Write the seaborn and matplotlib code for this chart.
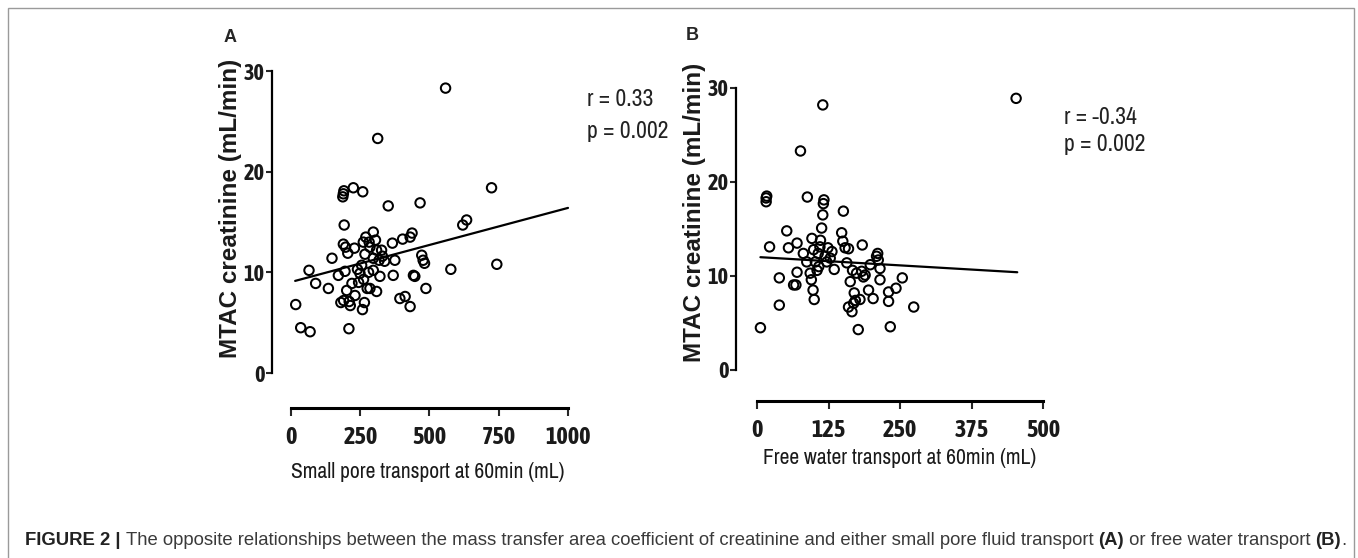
import matplotlib
matplotlib.use("Agg")
import matplotlib.pyplot as plt
import seaborn as sns
from matplotlib import font_manager
from matplotlib.patches import Rectangle

# Panel A: small pore transport (mL) vs MTAC creatinine (mL/min)
small_pore = [17, 35, 69, 65, 89, 135, 148, 171, 180, 187, 189, 191, 225, 259, 192,
              189, 197, 229, 205, 195, 201, 210, 209, 214, 220, 231, 249, 255, 258, 265,
              261, 270, 282, 297, 275, 285, 297, 297, 309, 309, 321, 327, 330, 338, 313,
              351, 366, 375, 369, 393, 412, 430, 403, 430, 437, 442, 447, 466, 472, 477,
              482, 487, 558, 577, 620, 634, 724, 743, 190, 240, 267, 285, 305, 318, 262,
              244, 280]
mtac_a = [6.8, 4.5, 4.1, 10.2, 8.9, 8.4, 11.4, 9.7, 7.0, 17.5, 17.8, 18.1, 18.4, 18.0, 14.7,
          12.8, 12.5, 12.4, 11.9, 10.1, 8.2, 7.1, 4.4, 6.7, 8.9, 7.7, 9.9, 10.7, 6.3, 7.0,
          13.0, 13.5, 13.0, 14.0, 8.4, 8.4, 10.2, 11.4, 8.1, 12.2, 9.6, 12.2, 11.6, 11.1, 23.3,
          16.6, 12.9, 11.2, 9.7, 7.4, 7.6, 6.6, 13.3, 13.5, 13.9, 9.7, 9.6, 16.9, 11.7, 11.2,
          10.9, 8.4, 28.3, 10.3, 14.7, 15.2, 18.4, 10.8, 7.2, 10.3, 11.8, 12.5, 13.2, 11.2, 9.3,
          9.0, 10.0]
fit_a_x = [15, 1000]
fit_a_y = [9.15, 16.4]

# Panel B: free water transport (mL) vs MTAC creatinine (mL/min)
free_water = [6, 16, 17, 16, 22, 39, 39, 52, 55, 64, 68, 70, 70, 76, 81, 87, 88, 93, 95, 96,
              98, 100, 99, 102, 105, 107, 110, 111, 113, 115, 116, 117, 115, 119, 122, 124, 128,
              131, 135, 148, 151, 150, 154, 157, 160, 163, 160, 166, 169, 167, 170, 174, 177,
              180, 183, 184, 186, 189, 195, 198, 203, 209, 211, 212, 215, 215, 230, 230, 233,
              243, 254, 274, 453, 172, 108]
mtac_b = [4.5, 18.3, 18.5, 17.9, 13.1, 9.8, 6.9, 14.8, 13.0, 9.05, 9.05, 10.4, 13.5, 23.3, 12.4,
          11.5, 18.4, 10.3, 9.6, 14.0, 8.5, 7.5, 12.8, 11.5, 10.6, 12.4, 13.1, 13.8, 15.1, 16.5,
          17.7, 18.1, 28.2, 12.1, 11.5, 13.0, 11.9, 12.6, 10.7, 14.6, 16.9, 13.7, 13.0, 11.4,
          12.9, 9.4, 6.7, 6.2, 7.1, 10.6, 8.2, 10.3, 4.3, 7.5, 10.5, 13.3, 9.9, 10.1, 8.5, 11.2,
          7.6, 12.1, 12.4, 11.7, 9.6, 10.8, 8.3, 7.3, 4.6, 8.7, 9.8, 6.7, 28.9, 7.4, 11.0]
fit_b_x = [6, 455]
fit_b_y = [12.0, 10.4]

y_ticks = [0, 10, 20, 30]
a_ticks = [0, 250, 500, 750, 1000]
b_ticks = [0, 125, 250, 375, 500]

sns.set_style("white")
plt.rcParams["font.family"] = ["Liberation Sans", "DejaVu Sans"]

# GraphPad style labels use a narrow font; take one if the machine has it,
# preferring a family that also ships a bold face (for the tick labels)
fonts = font_manager.fontManager.ttflist
narrow_names = sorted({f.name for f in fonts if "Narrow" in f.name or "Condensed" in f.name})
bold_narrow = [n for n in narrow_names
               if any(f.name == n and f.weight in ("bold", 700, "heavy", 800, "black", 900)
                      for f in fonts)]
condensed_dejavu = any(f.name == "DejaVu Sans" and f.stretch == "condensed" for f in fonts)
if narrow_names:
    narrow = dict(family=[narrow_names[0], "Liberation Sans"])
    narrow_b = dict(family=[(bold_narrow or narrow_names)[0], "Liberation Sans"])
    nscale = 1.0
elif condensed_dejavu:
    narrow = dict(family=["DejaVu Sans"], fontstretch="condensed")
    narrow_b = narrow
    nscale = 0.92
else:
    narrow = dict(family=["Liberation Sans", "DejaVu Sans"])
    narrow_b = narrow
    nscale = 0.84

W, H = 1358, 558
fig = plt.figure(figsize=(W / 100, H / 100), dpi=100)


def make_axes(left, right, top, bottom):
    return fig.add_axes([left / W, 1 - bottom / H, (right - left) / W, (bottom - top) / H])


def style_panel(ax, xticks, xmax, left_off, bottom_off):
    ax.set_xlim(0, xmax)
    ax.set_ylim(0, 30)
    sns.despine(ax=ax)
    ax.spines["left"].set_position(("outward", left_off * 0.72))
    ax.spines["bottom"].set_position(("outward", bottom_off * 0.72))
    ax.spines["left"].set_bounds(0, 30)
    ax.spines["bottom"].set_bounds(0, xmax)
    ax.spines["left"].set_linewidth(1.6)
    ax.spines["bottom"].set_linewidth(2.2)
    for s in ("left", "bottom"):
        ax.spines[s].set_color("black")
    ax.set_yticks(y_ticks)
    ax.set_xticks(xticks)
    ax.tick_params(axis="y", direction="out", length=4, width=1.5, pad=1.5, left=True,
                   labelsize=16 * nscale, labelcolor="#1a1a1a")
    ax.tick_params(axis="x", direction="out", length=6, width=1.5, pad=7, bottom=True,
                   labelsize=17.5 * nscale, labelcolor="#1a1a1a")
    for lab in ax.get_xticklabels() + ax.get_yticklabels():
        lab.set(**narrow_b)
        lab.set_fontweight("bold")
    ax.set_xlabel("")
    ax.set_ylabel("")
    ax.patch.set_alpha(0)


def draw(ax, x, y, fx, fy):
    sns.scatterplot(x=x, y=y, ax=ax, marker="o", s=46, facecolor="none",
                    edgecolor="black", linewidth=1.45, clip_on=False, legend=False)
    sns.lineplot(x=fx, y=fy, ax=ax, color="black", linewidth=1.6, clip_on=False)


def side_texts(ax, ylab_x, ylab_y, xlab, xlab_x, xlab_y, r_txt, r_x, r_y, p_y):
    ax.text(ylab_x, ylab_y, "MTAC creatinine (mL/min)", transform=ax.transAxes,
            rotation=90, ha="center", va="center", fontsize=17.5, fontweight="bold",
            color="#1a1a1a")
    ax.text(xlab_x, xlab_y, xlab, transform=ax.transAxes, ha="center", va="center",
            fontsize=15.5 * nscale, color="#1a1a1a", **narrow)
    ax.text(r_x, r_y, r_txt, transform=ax.transAxes, ha="left", va="center",
            fontsize=17 * nscale, color="#222222", **narrow)
    ax.text(r_x, p_y, "p = 0.002", transform=ax.transAxes, ha="left", va="center",
            fontsize=17 * nscale, color="#222222", **narrow)


# Panel A
ax_a = make_axes(291, 568, 71, 373)
draw(ax_a, small_pore, mtac_a, fit_a_x, fit_a_y)
style_panel(ax_a, a_ticks, 1000, 19, 35)
side_texts(ax_a, -0.218, 0.545, "Small pore transport at 60min (mL)", 0.495, -0.328,
           "r = 0.33", 1.07, 0.905, 0.80)

# Panel B
ax_b = make_axes(757, 1043, 88, 370)
draw(ax_b, free_water, mtac_b, fit_b_x, fit_b_y)
style_panel(ax_b, b_ticks, 500, 21, 31)
side_texts(ax_b, -0.218, 0.56, "Free water transport at 60min (mL)", 0.5, -0.312,
           "r = -0.34", 1.075, 0.897, 0.80)

# panel letters
fig.text(230 / W, 1 - 37 / H, "A", ha="center", va="center", fontsize=13, fontweight="bold")
fig.text(692 / W, 1 - 36 / H, "B", ha="center", va="center", fontsize=13, fontweight="bold")

# caption, pieces chained left to right
pieces = [("FIGURE 2 | ", "bold", "#222222"),
          ("The opposite relationships between the mass transfer area coefficient of creatinine "
           "and either small pore fluid transport ", "normal", "#3a3a3a"),
          ("(A)", "bold", "#222222"),
          (" or free water transport ", "normal", "#3a3a3a"),
          ("(B)", "bold", "#222222"),
          (".", "normal", "#3a3a3a")]
cap_size = 13.3
prev = fig.text(25 / W, 1 - 549 / H, pieces[0][0], ha="left", va="bottom", fontsize=cap_size,
                fontweight=pieces[0][1], color=pieces[0][2])
for txt, weight, col in pieces[1:]:
    prev = ax_a.annotate(txt, xy=(1, 0), xycoords=prev, ha="left", va="bottom",
                         fontsize=cap_size, fontweight=weight, color=col,
                         annotation_clip=False)

# frame around figure
fig.patches.append(Rectangle((8 / W, -0.05), (1354 - 8) / W, 1.05 - 8 / H,
                             transform=fig.transFigure, fill=False, edgecolor="#9a9a9a",
                             linewidth=1.0))

fig.savefig("out.png", dpi=100)
